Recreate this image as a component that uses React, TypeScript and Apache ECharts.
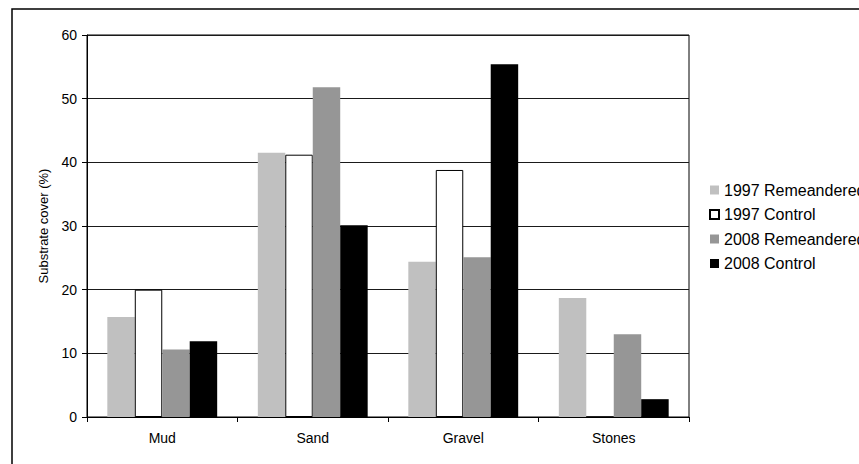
import React, { useEffect, useRef } from "react";
import * as echarts from "echarts";

const categories = ["Mud", "Sand", "Gravel", "Stones"];
const seriesNames = ["1997 Remeandered", "1997 Control", "2008 Remeandered", "2008 Control"];
const rem1997 = [15.7, 41.5, 24.4, 18.7];
const ctl1997 = [20.0, 41.2, 38.8, 0];
const rem2008 = [10.6, 51.8, 25.1, 13.0];
const ctl2008 = [11.9, 30.1, 55.4, 2.8];
const yTicks = [0, 10, 20, 30, 40, 50, 60];

const FONT = "'Liberation Sans', Arial, sans-serif";

export default function App() {
  const ref = useRef<HTMLDivElement>(null);
  useEffect(() => {
    if (!ref.current) return;
    const chart = echarts.init(ref.current, null, { renderer: "svg" });
    const values = [rem1997, ctl1997, rem2008, ctl2008];
    const styles = [
      { color: "#c0c0c0" },
      { color: "#ffffff", borderColor: "#000000", borderWidth: 1 },
      { color: "#969696" },
      { color: "#000000" },
    ];
    chart.setOption({
      animation: false,
      backgroundColor: "#ffffff",
      textStyle: { fontFamily: FONT },
      graphic: [
        {
          type: "rect",
          shape: { x: 12, y: 9, width: 900, height: 500 },
          style: { fill: "none", stroke: "#000", lineWidth: 1.5 },
          silent: true,
          z: -1,
        },
      ],
      grid: {
        left: 87,
        right: 170,
        top: 35,
        bottom: 47,
        show: true,
        borderColor: "#000",
        borderWidth: 1,
        backgroundColor: "transparent",
      },
      legend: {
        orient: "vertical",
        left: 704,
        top: 177,
        itemWidth: 9,
        itemHeight: 9,
        itemGap: 8.5,
        icon: "rect",
        textStyle: { fontSize: 16, color: "#000", fontFamily: FONT },
        data: seriesNames,
      },
      xAxis: {
        type: "category",
        data: categories,
        boundaryGap: true,
        axisLine: { lineStyle: { color: "#000", width: 1 } },
        axisTick: { show: true, length: 5, lineStyle: { color: "#000" } },
        axisLabel: { fontSize: 14, color: "#000", margin: 14, fontFamily: FONT },
      },
      yAxis: {
        type: "value",
        min: yTicks[0],
        max: yTicks[yTicks.length - 1],
        interval: 10,
        name: "Substrate cover (%)",
        nameLocation: "middle",
        nameGap: 37,
        nameRotate: 90,
        nameTextStyle: { fontSize: 13, color: "#000", fontFamily: FONT },
        axisLine: { show: true, lineStyle: { color: "#000", width: 1 } },
        axisTick: { show: true, length: 5, lineStyle: { color: "#000" } },
        axisLabel: { fontSize: 14, color: "#000", margin: 10, fontFamily: FONT },
        splitLine: { show: true, lineStyle: { color: "#1a1a1a", width: 1 } },
      },
      series: seriesNames.map((name, i) => ({
        name,
        type: "bar",
        data: values[i],
        barGap: "0%",
        barCategoryGap: "27%",
        itemStyle: styles[i],
      })),
    });
    return () => chart.dispose();
  }, []);
  return <div ref={ref} style={{ width: 859, height: 464, position: "absolute", left: 0, top: 0 }} />;
}
